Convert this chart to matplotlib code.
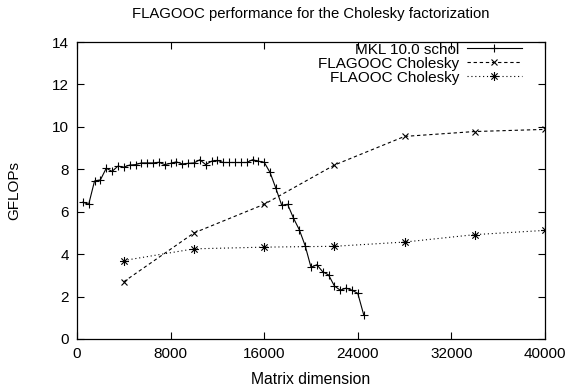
import numpy as np
import matplotlib
matplotlib.use("Agg")
import matplotlib.pyplot as plt
from matplotlib.path import Path

plt.rcParams['font.family'] = ['Liberation Sans', 'DejaVu Sans']

# ---- data ----
mkl_x = list(range(500, 25000, 500))
mkl_y = [6.45, 6.35, 7.45, 7.5, 8.05, 7.9, 8.15, 8.1, 8.2, 8.22,
         8.3, 8.3, 8.3, 8.33, 8.22, 8.28, 8.35, 8.25, 8.28, 8.3,
         8.45, 8.22, 8.38, 8.42, 8.32, 8.32, 8.32, 8.32, 8.32, 8.45,
         8.38, 8.33, 7.85, 7.1, 6.3, 6.35, 5.7, 5.15, 4.4, 3.38,
         3.5, 3.17, 3.02, 2.5, 2.3, 2.4, 2.3, 2.15, 1.15]
ooc_x = [4000, 10000, 16000, 22000, 28000, 34000, 40000]
flagooc_y = [2.7, 5.0, 6.35, 8.2, 9.55, 9.78, 9.88]
flaooc_y = [3.7, 4.25, 4.33, 4.37, 4.57, 4.92, 5.12]
labels = ["MKL 10.0 schol", "FLAGOOC Cholesky", "FLAOOC Cholesky"]
xticks = [0, 8000, 16000, 24000, 32000, 40000]
yticks = [0, 2, 4, 6, 8, 10, 12, 14]

FS = 11

# asterisk marker (+ overlaid with x)
a = 0.7
star = Path([(-1, 0), (1, 0), (0, -1), (0, 1), (-a, -a), (a, a), (-a, a), (a, -a)],
            [Path.MOVETO, Path.LINETO] * 4)

fig = plt.figure(figsize=(5.73, 3.89), dpi=100)
ax = fig.add_axes([77/573, 1-339/389, 468/573, 297/389])

lw = 0.8
ax.plot(mkl_x, mkl_y, color='black', lw=lw, marker='+', ms=5.5, mew=0.8, label=labels[0])
ax.plot(ooc_x, flagooc_y, color='black', lw=lw, ls=(0, (3, 2.5)), marker='x', ms=5, mew=0.8,
        label=labels[1])
ax.plot(ooc_x, flaooc_y, color='black', lw=lw, ls=(0, (1, 2.5)), marker=star, ms=6.5, mew=0.8,
        mfc='none', label=labels[2])

ax.set_xlim(0, 40000)
ax.set_ylim(0, 14)
ax.set_xticks(xticks)
ax.set_yticks(yticks)
ax.tick_params(direction='in', top=True, right=True, length=5, width=0.8,
               labelsize=FS, pad=6)
for s in ax.spines.values():
    s.set_linewidth(0.9)

ax.set_title("FLAGOOC performance for the Cholesky factorization", fontsize=10.7, pad=17)
ax.set_xlabel("Matrix dimension", fontsize=11.3, labelpad=8)
ax.set_ylabel("GFLOPs", fontsize=FS, labelpad=22)

leg = ax.legend(loc='upper right', frameon=False, markerfirst=False, fontsize=FS,
                handlelength=3.6, handletextpad=0.5, labelspacing=0.0,
                borderaxespad=0.0, bbox_to_anchor=(0.963, 1.018))
for col in leg._legend_handle_box.get_children():
    col.align = 'right'

fig.savefig("out.png", dpi=100)
